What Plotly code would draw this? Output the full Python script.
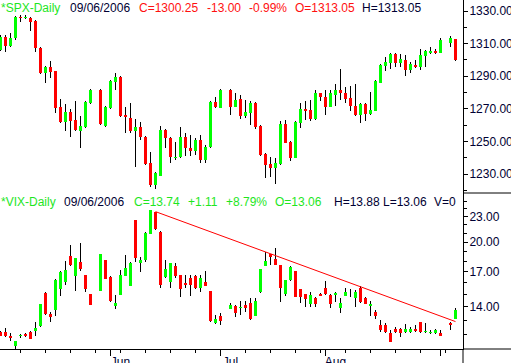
import numpy as np
import pandas as pd
import plotly.graph_objects as go

# ---------------- data ----------------
holidays = ["2006-05-29", "2006-07-04", "2006-09-04"]
dates = [d.strftime("%Y-%m-%d") for d in pd.bdate_range("2006-05-02", "2006-09-06")
         if d.strftime("%Y-%m-%d") not in holidays]

spx_open = [1306.1, 1314.3, 1308.7, 1313.2, 1326.5, 1325.5, 1325.9, 1324.1, 1307.5, 1292.2,
            1295.85, 1293.2, 1271.3, 1262.1, 1268.2, 1263.1, 1256.6, 1259.0, 1273.4,
            1281.5, 1259.6, 1270.3, 1286.6, 1289.5, 1266.2, 1264.6, 1256.6, 1259.0, 1252.9,
            1236.5, 1223.05, 1229.0, 1257.0, 1252.3, 1240.0, 1240.2, 1252.9, 1246.2, 1244.3,
            1250.9, 1238.6, 1246.4, 1274.4, 1270.7,
            1281.5, 1271.3, 1275.8, 1265.8, 1267.2, 1273.4, 1259.5, 1242.3, 1236.1, 1233.9,
            1236.1, 1260.7, 1249.8, 1240.0, 1261.5, 1270.1, 1269.3, 1263.5, 1279.5, 1277.4,
            1271.3, 1278.5, 1281.5, 1279.9, 1276.4, 1271.7, 1266.2, 1272.9, 1266.8, 1268.85,
            1286.0, 1296.3, 1298.3, 1303.6, 1298.3, 1299.9, 1293.8, 1296.9, 1295.85, 1302.6,
            1304.4, 1305.5, 1304.4,
            1310.4, 1313.05]
spx_high = [1315.0, 1315.0, 1316.7, 1327.0, 1327.5, 1327.5, 1326.5, 1324.5, 1308.0, 1296.3,
            1299.3, 1293.5, 1276.0, 1272.9, 1269.9, 1275.0, 1265.8, 1275.0, 1282.0,
            1282.0, 1271.8, 1287.7, 1292.2, 1290.0, 1271.3, 1273.4, 1263.7, 1261.7, 1253.3,
            1243.3, 1231.0, 1259.4, 1257.5, 1252.8, 1249.8, 1259.0, 1254.95, 1253.9, 1251.9,
            1253.9, 1247.8, 1275.0, 1277.4, 1282.0,
            1282.0, 1279.5, 1278.5, 1275.4, 1275.0, 1274.4, 1260.0, 1242.7, 1240.6, 1239.6,
            1262.7, 1263.1, 1250.2, 1262.6, 1273.8, 1274.8, 1275.4, 1281.5, 1280.0, 1281.5,
            1281.5, 1285.0, 1294.4, 1283.2, 1284.0, 1285.2, 1273.4, 1273.3, 1280.5, 1287.7,
            1297.5, 1301.6, 1304.0, 1304.0, 1303.6, 1303.0, 1298.9, 1299.9, 1306.5, 1306.1,
            1308.1, 1306.5, 1313.2,
            1314.5, 1313.05]
spx_low = [1305.5, 1304.6, 1308.0, 1312.5, 1323.5, 1325.1, 1317.9, 1304.6, 1291.5, 1285.6,
           1289.1, 1267.6, 1261.5, 1256.6, 1252.9, 1256.5, 1245.8, 1258.5, 1273.0,
           1260.0, 1259.0, 1270.0, 1281.5, 1265.0, 1254.95, 1254.95, 1234.5, 1250.9, 1235.5,
           1222.2, 1220.6, 1228.5, 1246.2, 1236.9, 1238.6, 1239.8, 1241.0, 1241.0, 1241.7,
           1236.5, 1236.5, 1246.0, 1270.5, 1270.3,
           1266.2, 1270.9, 1263.5, 1264.2, 1260.1, 1257.4, 1241.0, 1227.75, 1228.4, 1223.7,
           1235.7, 1248.8, 1238.2, 1239.6, 1258.0, 1263.1, 1262.7, 1263.1, 1275.0, 1266.2,
           1270.9, 1271.7, 1275.4, 1273.8, 1268.6, 1265.8, 1261.5, 1262.5, 1266.4, 1268.5,
           1285.6, 1293.4, 1294.4, 1295.85, 1295.85, 1290.1, 1292.2, 1294.8, 1293.8, 1295.85,
           1303.4, 1303.4, 1304.0,
           1308.0, 1299.6]
spx_close = [1314.3, 1308.7, 1313.6, 1326.5, 1325.5, 1326.5, 1323.5, 1307.1, 1292.2, 1295.85,
             1292.8, 1270.7, 1262.1, 1268.2, 1262.7, 1257.0, 1259.6, 1274.4, 1281.5,
             1260.5, 1271.3, 1287.2, 1289.5, 1265.6, 1264.8, 1256.6, 1259.0, 1252.5, 1235.9,
             1223.05, 1230.4, 1257.0, 1251.9, 1240.6, 1240.6, 1252.9, 1245.75, 1244.1, 1250.9,
             1238.6, 1246.8, 1274.4, 1270.9, 1281.5,
             1271.3, 1275.4, 1265.8, 1268.2, 1273.4, 1258.6, 1241.7, 1235.5, 1233.9, 1236.5,
             1260.7, 1249.2, 1240.0, 1262.1, 1269.7, 1268.85, 1263.7, 1279.5, 1277.4, 1271.3,
             1279.5, 1281.5, 1279.5, 1275.8, 1271.7, 1266.2, 1272.9, 1266.8, 1269.3, 1287.2,
             1296.9, 1298.9, 1303.6, 1298.3, 1300.35, 1293.8, 1297.3, 1295.85, 1303.0, 1305.7,
             1305.5, 1304.4, 1312.2,
             1313.25, 1300.25]

vix_open = [12.20, 12.20, 11.94, 11.30, 11.92, 12.05, 12.20, 12.24, 12.59, 15.13,
            13.45, 13.75, 15.44, 16.02, 18.55, 16.62, 17.95, 16.68, 14.99,
            15.27, 18.11, 16.53, 14.09, 14.94, 16.62, 15.73, 22.58, 17.85, 18.11,
            20.92, 23.57, 21.18, 16.53, 16.02, 17.56, 16.68, 15.99, 16.44, 16.62,
            15.55, 16.02, 15.27, 12.82, 13.30,
            13.83, 14.06, 13.88, 14.14, 14.32, 13.33, 15.16, 17.53, 18.69, 18.21,
            17.63, 14.99, 16.19, 17.05, 15.44, 15.02, 14.19, 14.66, 15.02, 15.50,
            14.94, 14.94, 13.93, 14.89, 15.08, 14.72, 15.55, 14.66, 14.09, 13.58,
            12.66, 12.66, 12.13, 12.38, 12.36, 12.20, 12.20, 12.38, 12.85, 12.18,
            12.09, 12.13, 12.13,
            12.82, 13.06]
vix_high = [12.25, 12.43, 12.13, 11.62, 12.05, 12.09, 12.22, 12.85, 14.25, 15.18,
            13.63, 16.27, 17.03, 18.01, 19.68, 18.32, 19.87, 16.72, 15.03,
            18.73, 18.15, 16.57, 14.94, 17.14, 18.62, 17.95, 22.63, 18.45, 21.12,
            23.92, 23.65, 21.22, 18.11, 17.83, 17.79, 16.72, 16.68, 16.68, 16.68,
            16.68, 17.05, 15.31, 13.38, 13.50,
            14.27, 14.10, 14.45, 14.45, 14.72, 14.66, 17.28, 18.90, 18.73, 19.39,
            17.67, 16.26, 17.56, 17.09, 15.48, 15.06, 15.16, 14.80, 15.13, 16.13,
            14.98, 15.16, 14.66, 15.55, 15.44, 15.35, 15.73, 14.80, 14.45, 13.75,
            13.01, 12.78, 12.31, 12.54, 12.47, 12.73, 12.54, 12.66, 12.89, 12.78,
            12.31, 12.36, 12.31,
            12.89, 13.88]
vix_low = [11.90, 11.87, 11.61, 11.09, 11.77, 11.83, 11.70, 11.94, 12.55, 13.40,
           12.89, 13.33, 14.89, 15.78, 17.56, 15.27, 17.05, 15.21, 14.10,
           15.23, 16.27, 14.40, 13.83, 14.90, 16.58, 15.69, 17.88, 16.99, 17.95,
           20.88, 21.40, 15.55, 16.44, 15.55, 16.37, 14.80, 15.50, 14.89, 15.46,
           15.21, 15.70, 12.90, 12.73, 12.66,
           13.80, 13.20, 13.38, 13.63, 13.03, 13.30, 15.12, 17.49, 17.63, 17.60,
           14.40, 14.86, 16.15, 14.76, 14.27, 14.01, 14.01, 14.01, 14.86, 14.96,
           13.88, 14.35, 13.55, 14.86, 14.80, 14.01, 14.32, 14.18, 13.33, 13.08,
           12.20, 12.09, 11.51, 12.12, 11.87, 12.13, 12.13, 12.20, 12.12, 12.13,
           12.02, 12.02, 11.90,
           12.31, 13.06]
vix_close = [11.94, 11.94, 11.81, 11.59, 11.98, 11.92, 11.72, 12.43, 14.21, 13.43,
             13.25, 16.22, 16.99, 17.14, 17.63, 18.28, 17.24, 15.44, 14.14,
             18.69, 16.31, 14.45, 14.32, 16.68, 17.37, 17.85, 18.28, 18.11, 21.07,
             23.87, 21.45, 15.78, 17.24, 17.79, 16.62, 15.44, 15.78, 15.78, 15.50,
             16.44, 15.73, 12.94, 13.08, 12.94,
             14.14, 13.55, 14.01, 13.93, 13.06, 14.45, 17.24, 18.01, 18.45, 17.63,
             15.50, 16.22, 17.46, 14.80, 14.80, 14.58, 14.94, 14.21, 14.89, 14.99,
             14.21, 15.08, 14.32, 15.21, 15.13, 15.16, 14.35, 14.21, 14.21, 13.33,
             12.31, 12.20, 11.55, 12.15, 12.13, 12.38, 12.38, 12.24, 12.15, 12.24,
             12.20, 12.31, 11.92,
             12.63, 13.74]

trend_dates = ["2006-06-14", "2006-09-06"]
trend_vals = [23.65, 12.90]

spx_ticks = [1230, 1250, 1270, 1290, 1310, 1330]
spx_minor = [1220, 1240, 1260, 1280, 1300, 1320]
vix_ticks = [14, 17, 20, 23]
vix_minor = [12, 13, 15, 16, 18, 19, 21, 22, 24, 25]
month_starts = ["2006-06-01", "2006-07-03", "2006-08-01", "2006-09-01"]
month_labels = ["Jun", "Jul", "Aug", ""]

spx_header = [("*SPX-Daily", 0, "g"), ("09/06/2006", 69, "k"), ("C=1300.25", 138, "r"),
              ("-13.00", 206, "r"), ("-0.99%", 248, "r"), ("O=1313.05", 294, "r"),
              ("H=1313.05", 361, "k")]
vix_header = [("*VIX-Daily", 0, "g"), ("09/06/2006", 63, "k"), ("C=13.74", 133, "g"),
              ("+1.11", 187, "g"), ("+8.79%", 225, "g"), ("O=13.06", 274, "g"),
              ("H=13.88", 333, "k"), ("L=13.06", 382, "k"), ("V=0", 433, "k")]

# ---------------- helpers ----------------
GREEN = "#00ff00"
RED = "#ff0000"
TXT = {"g": "#1ee61e", "r": "#ff1010", "k": "#000033"}
FONT = "Liberation Sans, Arial, sans-serif"

start = np.datetime64(dates[0])
def slot(ds):
    return np.busday_count(start, np.array(ds, dtype="datetime64[D]"))

x = slot(dates)
mondays = [d.strftime("%Y-%m-%d") for d in pd.date_range("2006-05-08", "2006-09-06", freq="W-MON")]

fig = go.Figure()

def candles(o, h, l, c, yax, min_h):
    o, h, l, c = map(np.array, (o, h, l, c))
    up = c >= o
    cols = np.where(up, GREEN, RED)
    fig.add_trace(go.Bar(x=x, y=h - l, base=l, width=0.2, marker_color="black",
                         marker_line_width=0, yaxis=yax, showlegend=False, hoverinfo="skip"))
    body_lo = np.minimum(o, c)
    body_h = np.maximum(np.abs(c - o), min_h)
    fig.add_trace(go.Bar(x=x, y=body_h, base=body_lo, width=0.6, marker_color=cols,
                         marker_line_width=0, yaxis=yax, showlegend=False, hoverinfo="skip"))

candles(spx_open, spx_high, spx_low, spx_close, "y", 0.6)
candles(vix_open, vix_high, vix_low, vix_close, "y2", 0.06)

fig.add_trace(go.Scatter(x=slot(trend_dates), y=trend_vals, mode="lines",
                         line=dict(color=RED, width=1), yaxis="y2",
                         showlegend=False, hoverinfo="skip"))

split = 1 - 193 / 349

fig.update_layout(
    template="none",
    width=511, height=363, autosize=False,
    margin=dict(l=0, r=48, t=0, b=14, pad=0),
    paper_bgcolor="white", plot_bgcolor="white",
    barmode="overlay", bargap=0,
    showlegend=False, hovermode=False,
    font=dict(family=FONT, size=12, color="#000033"),
    xaxis=dict(range=[-0.1, 92.5], anchor="y2", showgrid=False, zeroline=False,
               automargin=False,
               showline=True, linecolor="black", linewidth=1,
               tickmode="array", tickvals=slot(month_starts), ticktext=month_labels,
               ticks="outside", ticklen=6, tickcolor="black", tickwidth=1,
               ticklabelshift=10, ticklabelstandoff=-4,
               tickfont=dict(family=FONT, size=12, color="#000033"),
               minor=dict(tickmode="array", tickvals=slot(mondays), ticks="outside",
                          ticklen=3, tickcolor="black", tickwidth=1, showgrid=False)),
    yaxis=dict(domain=[split, 1], anchor="x", side="right", range=[1218.35, 1336.75],
               automargin=False,
               showgrid=False, zeroline=False, showline=True, linecolor="black",
               tickmode="array", tickvals=spx_ticks,
               ticktext=[f"{v:.2f}" for v in spx_ticks],
               ticks="outside", ticklen=4, tickcolor="black", ticklabelstandoff=-1,
               tickfont=dict(family=FONT, size=12, color="#000033"),
               minor=dict(tickmode="array", tickvals=spx_minor, ticks="outside",
                          ticklen=3, tickcolor="black", showgrid=False)),
    yaxis2=dict(domain=[0, split], anchor="x", side="right", type="log",
                range=[np.log10(11.09), np.log10(26.21)],
                automargin=False,
                showgrid=False, zeroline=False, showline=True, linecolor="black",
                tickmode="array", tickvals=vix_ticks,
                ticktext=[f"{v:.2f}" for v in vix_ticks],
                ticks="outside", ticklen=4, tickcolor="black", ticklabelstandoff=-1,
                tickfont=dict(family=FONT, size=12, color="#000033"),
                minor=dict(tickmode="array", tickvals=vix_minor, ticks="outside",
                           ticklen=3, tickcolor="black", showgrid=False)),
)

# header texts
for txt, px, col in spx_header:
    fig.add_annotation(text=txt, xref="paper", yref="paper", x=0, y=1, xshift=px - 1,
                       yshift=-8, xanchor="left", yanchor="middle", showarrow=False,
                       font=dict(family=FONT, size=12, color=TXT[col]))
for txt, px, col in vix_header:
    fig.add_annotation(text=txt, xref="paper", yref="paper", x=0, y=split, xshift=px - 1,
                       yshift=-9, xanchor="left", yanchor="middle", showarrow=False,
                       font=dict(family=FONT, size=12, color=TXT[col]))

# panel divider in the axis area and axis extensions
fig.add_shape(type="line", xref="paper", yref="paper", x0=1, x1=1.2, y0=split, y1=split,
              line=dict(color="black", width=1))
fig.add_shape(type="line", xref="paper", yref="paper", x0=1, x1=1.2, y0=0, y1=0,
              line=dict(color="black", width=1))
fig.add_shape(type="line", xref="paper", yref="paper", x0=1, x1=1, y0=0, y1=-0.1,
              line=dict(color="black", width=1))

fig.write_html("out.html", config={"displayModeBar": False, "staticPlot": True},
               post_script="document.body.style.margin='0';document.body.style.overflow='hidden';")
